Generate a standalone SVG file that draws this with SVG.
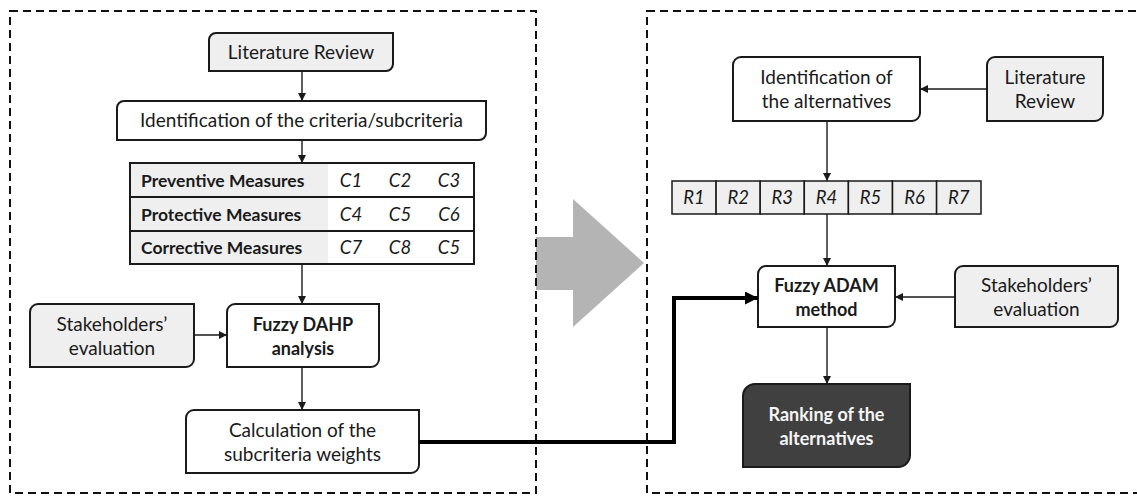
<svg xmlns="http://www.w3.org/2000/svg" width="1137" height="498" viewBox="0 0 1137 498">
<style>
.frame{fill:none;stroke:#111;stroke-width:2;stroke-dasharray:8 5}
.box{fill:#fff;stroke:#1a1a1a;stroke-width:2}
.grey{fill:#efefef;stroke:#1a1a1a;stroke-width:2}
.dark{fill:#404040;stroke:#1a1a1a;stroke-width:2}
.cell{fill:#efefef;stroke:#1a1a1a;stroke-width:1.5}
.t{font-family:Lato,"Open Sans",sans-serif;font-size:19px;fill:#1a1a1a;text-anchor:middle}
.b{font-weight:bold;font-size:18px}
.w{fill:#f5f5f5}
.tb{font-family:Lato,"Open Sans",sans-serif;font-size:17.5px;font-weight:bold;fill:#1a1a1a}
.ti{font-family:Lato,"Open Sans",sans-serif;font-size:18.5px;font-style:italic;fill:#1a1a1a;text-anchor:middle}
.con{fill:none;stroke:#1a1a1a;stroke-width:1.4;marker-end:url(#ah)}
.thick{fill:none;stroke:#000;stroke-width:4;marker-end:url(#ahb)}
</style>
<defs>
<marker id="ah" viewBox="0 0 10 10" refX="10" refY="5" markerWidth="9" markerHeight="8" markerUnits="userSpaceOnUse" orient="auto"><path d="M0,0L10,5L0,10z" fill="#1a1a1a"/></marker>
<marker id="ahb" viewBox="0 0 10 10" refX="10" refY="5" markerWidth="13" markerHeight="13" markerUnits="userSpaceOnUse" orient="auto"><path d="M0,0L10,5L0,10z" fill="#000"/></marker>
</defs>
<polygon points="536,237 573,237 573,199 644,263 573,327 573,290 536,290" fill="#b4b4b4"/>
<rect class="frame" x="10" y="11" width="526" height="482"/>
<rect class="frame" x="647" y="11" width="500" height="482"/>

<g id="lit-left">
<path class="grey" d="M216,33H393V64A7,7 0 0 1 386,71H209V40A7,7 0 0 1 216,33Z"/>
<text class="t" x="301" y="59">Literature Review</text>
</g>
<g id="ident-criteria">
<path class="box" d="M124,101H486V133A7,7 0 0 1 479,140H117V108A7,7 0 0 1 124,101Z"/>
<text class="t" x="301.5" y="127">Identification of the criteria/subcriteria</text>
</g>
<g id="criteria-table">
<rect x="130" y="163" width="198" height="101" fill="#efefef"/>
<rect x="328" y="163" width="146" height="101" fill="#fff"/>
<rect x="130" y="163" width="344" height="101" fill="none" stroke="#1a1a1a" stroke-width="2"/>
<line x1="130" y1="197" x2="474" y2="197" stroke="#1a1a1a" stroke-width="2"/>
<line x1="130" y1="231" x2="474" y2="231" stroke="#1a1a1a" stroke-width="2"/>
<text class="tb" x="141" y="187">Preventive Measures</text>
<text class="tb" x="141" y="221">Protective Measures</text>
<text class="tb" x="141" y="254">Corrective Measures</text>
<text class="ti" x="351" y="187">C1</text><text class="ti" x="400" y="187">C2</text><text class="ti" x="449" y="187">C3</text>
<text class="ti" x="351" y="221">C4</text><text class="ti" x="400" y="221">C5</text><text class="ti" x="449" y="221">C6</text>
<text class="ti" x="351" y="254">C7</text><text class="ti" x="400" y="254">C8</text><text class="ti" x="449" y="254">C5</text>
</g>
<g id="stake-left">
<path class="grey" d="M38,304H194V359A8,8 0 0 1 186,367H30V312A8,8 0 0 1 38,304Z"/>
<text class="t" x="112" y="331">Stakeholders’</text>
<text class="t" x="112" y="355">evaluation</text>
</g>
<g id="fuzzy-dahp">
<path class="box" d="M235,304H379V359A8,8 0 0 1 371,367H227V312A8,8 0 0 1 235,304Z"/>
<text class="t b" x="303" y="331">Fuzzy DAHP</text>
<text class="t b" x="303" y="355">analysis</text>
</g>
<g id="calc-weights">
<path class="box" d="M194,410H419V465A8,8 0 0 1 411,473H186V418A8,8 0 0 1 194,410Z"/>
<text class="t" x="302.5" y="437">Calculation of the</text>
<text class="t" x="302.5" y="461">subcriteria weights</text>
</g>

<g id="ident-alt">
<path class="box" d="M741,57H920V113A8,8 0 0 1 912,121H733V65A8,8 0 0 1 741,57Z"/>
<text class="t" x="826.5" y="84">Identification of</text>
<text class="t" x="826.5" y="108">the alternatives</text>
</g>
<g id="lit-right">
<path class="grey" d="M995,57H1103V113A8,8 0 0 1 1095,121H987V65A8,8 0 0 1 995,57Z"/>
<text class="t" x="1045" y="84">Literature</text>
<text class="t" x="1045" y="108">Review</text>
</g>
<g id="alternatives-row">
<rect class="cell" x="672" y="181" width="44.1" height="33"/>
<rect class="cell" x="716.1" y="181" width="44.1" height="33"/>
<rect class="cell" x="760.2" y="181" width="44.1" height="33"/>
<rect class="cell" x="804.3" y="181" width="44.1" height="33"/>
<rect class="cell" x="848.4" y="181" width="44.1" height="33"/>
<rect class="cell" x="892.5" y="181" width="44.1" height="33"/>
<rect class="cell" x="936.6" y="181" width="44.4" height="33"/>
<text class="ti" x="694" y="204">R1</text>
<text class="ti" x="738.2" y="204">R2</text>
<text class="ti" x="782.3" y="204">R3</text>
<text class="ti" x="826.4" y="204">R4</text>
<text class="ti" x="870.5" y="204">R5</text>
<text class="ti" x="914.6" y="204">R6</text>
<text class="ti" x="958.8" y="204">R7</text>
</g>
<g id="fuzzy-adam">
<path class="box" d="M766,266H895V319A8,8 0 0 1 887,327H758V274A8,8 0 0 1 766,266Z"/>
<text class="t b" x="826.5" y="292">Fuzzy ADAM</text>
<text class="t b" x="826.5" y="316">method</text>
</g>
<g id="stake-right">
<path class="grey" d="M963,266H1118V319A8,8 0 0 1 1110,327H955V274A8,8 0 0 1 963,266Z"/>
<text class="t" x="1036.5" y="292">Stakeholders’</text>
<text class="t" x="1036.5" y="316">evaluation</text>
</g>
<g id="ranking">
<path class="dark" d="M755,384H910V455A12,12 0 0 1 898,467H743V396A12,12 0 0 1 755,384Z"/>
<text class="t b w" x="826.5" y="421">Ranking of the</text>
<text class="t b w" x="826.5" y="445">alternatives</text>
</g>

<g id="connectors">
<path class="con" d="M302,71V101"/>
<path class="con" d="M302,140V163"/>
<path class="con" d="M302,264V304"/>
<path class="con" d="M194,335H227"/>
<path class="con" d="M302,367V410"/>
<path class="con" d="M987,89H920"/>
<path class="con" d="M827,121V181"/>
<path class="con" d="M827,214V266"/>
<path class="con" d="M955,297H895"/>
<path class="con" d="M827,327V384"/>
<path class="thick" d="M419,442H674V298H758"/>
</g>
</svg>
